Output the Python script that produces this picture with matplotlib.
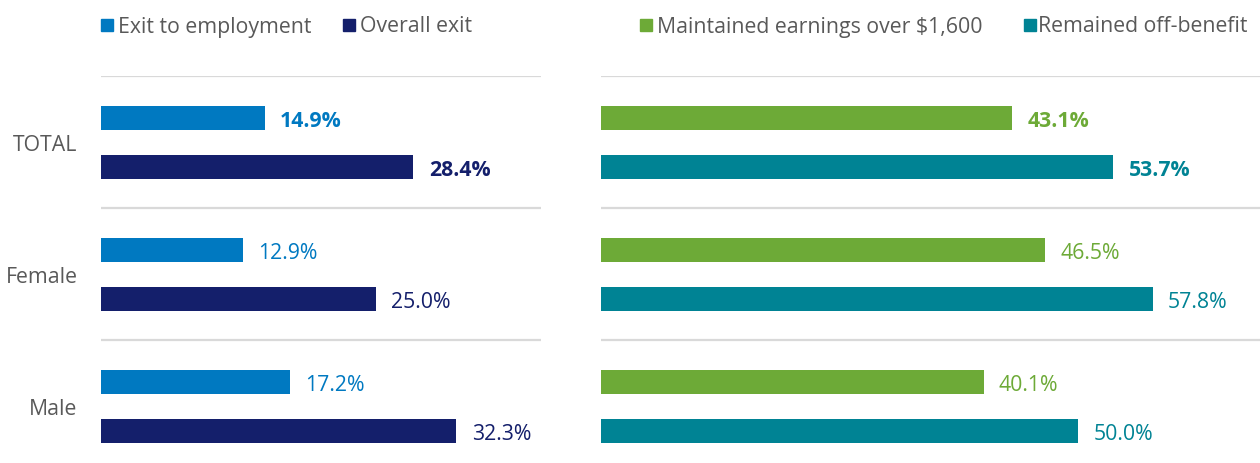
import matplotlib
matplotlib.use("Agg")
import matplotlib.pyplot as plt
import numpy as np

plt.rcParams['font.family'] = ['Open Sans', 'DejaVu Sans']

categories = ["TOTAL", "Female", "Male"]
exit_employment = [14.9, 12.9, 17.2]
overall_exit = [28.4, 25.0, 32.3]
maintained_earnings = [43.1, 46.5, 40.1]
remained_off = [53.7, 57.8, 50.0]

C_LIGHT = "#0079C1"
C_NAVY = "#141F6B"
C_GREEN = "#6DAA37"
C_TEAL = "#008394"
GRID = "#D9D9D9"
TEXT = "#595959"
FS = 15.3

W, H = 1260, 464
fig = plt.figure(figsize=(W / 100, H / 100), dpi=100)

def px_axes(x0, x1, y_top, y_bot):
    return fig.add_axes([x0 / W, 1 - y_bot / H, (x1 - x0) / W, (y_bot - y_top) / H])

ax1 = px_axes(101, 541, 77, 473)
ax2 = px_axes(601, 1269, 77, 473)

y = np.arange(len(categories))
off = 24.5 / 132
bh = 24 / 132
shift = 0.006

def draw(ax, top_vals, bot_vals, c_top, c_bot, xmax):
    ax.barh(y - off + shift, top_vals, height=bh, color=c_top)
    ax.barh(y + off + shift, bot_vals, height=bh, color=c_bot)
    for i in range(len(y)):
        weight = "bold" if i == 0 else "normal"
        ax.annotate(f"{top_vals[i]:.1f}%", (top_vals[i], y[i] - off + shift), xytext=(11, -1.5),
                    textcoords="offset points", va="center", ha="left",
                    color=c_top, fontsize=FS, fontweight=weight)
        ax.annotate(f"{bot_vals[i]:.1f}%", (bot_vals[i], y[i] + off + shift), xytext=(11, -1.5),
                    textcoords="offset points", va="center", ha="left",
                    color=c_bot, fontsize=FS, fontweight=weight)
    for b in [-0.5, 0.5, 1.5, 2.5]:
        ax.axhline(b, color=GRID, lw=1.6, zorder=0)
    ax.set_xlim(0, xmax)
    ax.set_ylim(2.5, -0.5)
    ax.set_xticks([])
    ax.set_yticks([])
    for s in ax.spines.values():
        s.set_visible(False)
    ax.patch.set_alpha(0)

draw(ax1, exit_employment, overall_exit, C_LIGHT, C_NAVY, 40)
draw(ax2, maintained_earnings, remained_off, C_GREEN, C_TEAL, 70)

ax1.set_yticks(y)
ax1.set_yticklabels(categories, fontsize=FS, color=TEXT)
ax1.tick_params(axis="y", length=0, pad=17)

# legends
def legend_item(x_sq, x_txt, color, label):
    fig.patches.append(plt.Rectangle((x_sq / W, 1 - 32 / H), 12 / W, 12 / H,
                                     transform=fig.transFigure, color=color))
    fig.text(x_txt / W, 1 - 27 / H, label, fontsize=FS, color=TEXT, va="center", ha="left")

legend_item(101, 118, C_LIGHT, "Exit to employment")
legend_item(343, 360, C_NAVY, "Overall exit")
legend_item(640, 657, C_GREEN, "Maintained earnings over $1,600")
legend_item(1024, 1038, C_TEAL, "Remained off-benefit")

fig.savefig("out.png", dpi=100)
